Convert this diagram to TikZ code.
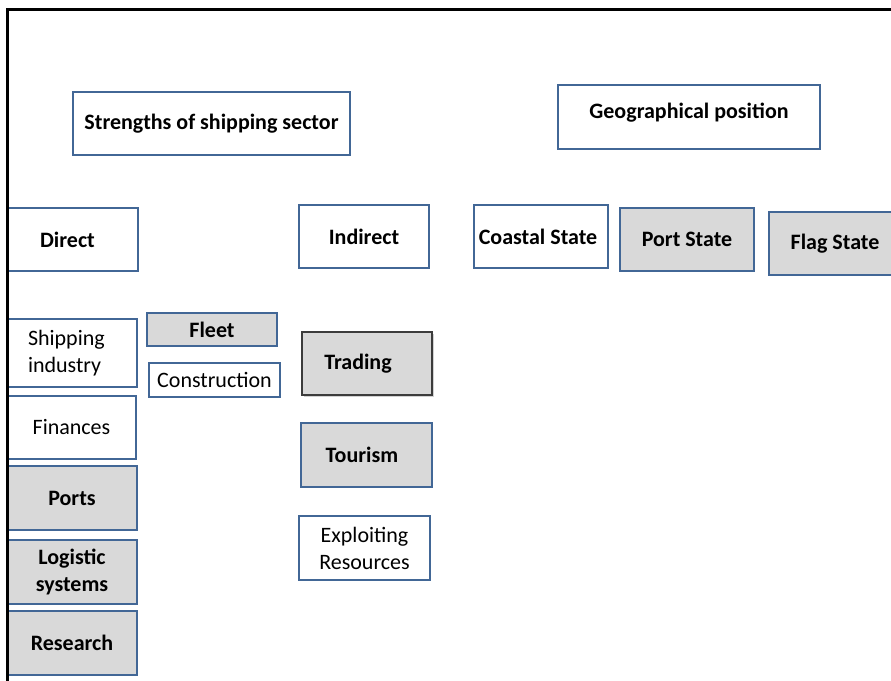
\documentclass[tikz,border=0pt]{standalone}
\usepackage{fontspec}
\setmainfont{Carlito}
\usepackage{xcolor}
\usepackage{tikz}
\usetikzlibrary{shadows}
\definecolor{boxblue}{RGB}{66,103,150}
\definecolor{boxgrey}{RGB}{217,217,217}
\definecolor{darkedge}{RGB}{60,60,60}

\begin{document}
\begin{tikzpicture}[x=1pt,y=-1pt,
  box/.style={draw=boxblue,line width=2pt,fill=white,inner sep=0pt,
    minimum width=130pt,minimum height=63pt,align=center,
    font=\fontsize{22}{27}\selectfont},
  boldbox/.style={box,font=\fontsize{22}{27}\selectfont\bfseries},
  greybox/.style={boldbox,fill=boxgrey},
  shadowbox/.style={greybox,draw=darkedge,line width=1.2pt,
    drop shadow={shadow xshift=2pt,shadow yshift=-2pt,opacity=0.35}}]
\useasboundingbox (0,0) rectangle (891,680);
\fill[white] (0,0) rectangle (891,680);
% Headings
\node[boldbox,minimum width=277pt] (strengths) at (211.5,123.5) {Strengths of shipping sector};
\node[boldbox,minimum width=262pt,minimum height=64pt,text depth=12pt] (geo) at (689,117) {Geographical position};
% Second row
\node[boldbox,minimum width=131pt] (direct) at (72,239.5) {Direct\hspace*{9pt}};
\node[boldbox] (indirect) at (364,236.5) {Indirect};
\node[boldbox,minimum width=134pt] (coastal) at (541,236.5) {Coastal State\hspace*{6pt}};
\node[greybox,minimum width=134pt] (port) at (687,239.5) {Port State};
\node[greybox,minimum width=132pt] (flag) at (835,243.5) {Flag State};
% Direct column
\node[box,minimum height=68pt,text width=88pt,align=left] (shipping) at (72,353) {Shipping\\industry};
\node[box,minimum width=129pt] (finances) at (71.5,427.5) {Finances};
\node[greybox,minimum height=64pt] (ports) at (72,498) {Ports};
\node[greybox,minimum height=64pt] (logistic) at (72,572) {Logistic\\systems};
\node[greybox,minimum height=64pt] (research) at (72,643) {Research};
% Fleet and construction
\node[greybox,minimum height=33pt] (fleet) at (212,329.5) {Fleet};
\node[box,minimum width=131pt,minimum height=34pt] (construction) at (214.5,380) {Construction};
% Indirect column
\node[shadowbox] (trading) at (367,363.5) {Trading\hspace*{18pt}};
\node[greybox,minimum width=131pt,minimum height=64pt] (tourism) at (366.5,455) {Tourism\hspace*{9pt}};
\node[box,minimum width=131pt,minimum height=64pt] (exploiting) at (364.5,548) {Exploiting\\Resources};
% Frame
\draw[line width=3pt] (7,690) -- (7,9) -- (900,9);
\end{tikzpicture}
\end{document}
